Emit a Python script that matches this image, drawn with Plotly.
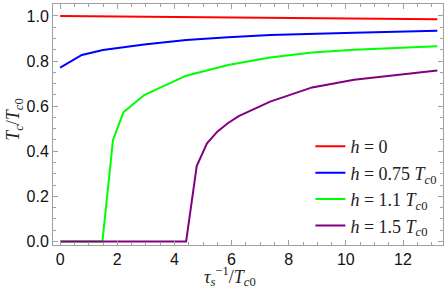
import plotly.graph_objects as go

x_red = [0, 0.735, 1.47, 2.2, 2.94, 4.41, 5.88, 7.35, 8.82, 10.29, 13.2]
y_red = [1.0, 0.999, 0.998, 0.997, 0.996, 0.995, 0.993, 0.991, 0.989, 0.988, 0.985]

x_blue = [0, 0.76, 1.5, 2.2, 2.94, 4.41, 5.88, 7.35, 8.82, 10.29, 13.2]
y_blue = [0.771, 0.827, 0.849, 0.862, 0.873, 0.893, 0.906, 0.915, 0.921, 0.926, 0.934]

x_green = [0, 1.48, 1.85, 2.22, 2.94, 4.41, 5.88, 7.35, 8.82, 10.29, 13.2]
y_green = [0, 0, 0.45, 0.573, 0.649, 0.735, 0.782, 0.816, 0.838, 0.85, 0.866]

x_purple = [0, 4.41, 4.78, 5.14, 5.51, 5.88, 6.25, 7.35, 8.82, 10.29, 13.2]
y_purple = [0, 0, 0.334, 0.435, 0.488, 0.525, 0.556, 0.62, 0.683, 0.717, 0.758]

x_ticks = [0, 2, 4, 6, 8, 10, 12]
y_ticks = [0.0, 0.2, 0.4, 0.6, 0.8, 1.0]

names = ["<i>h</i> = 0",
         "<i>h</i> = 0.75 <i>T</i><sub><i>c</i>0</sub>",
         "<i>h</i> = 1.1 <i>T</i><sub><i>c</i>0</sub>",
         "<i>h</i> = 1.5 <i>T</i><sub><i>c</i>0</sub>"]
colors = ["#ff0000", "#0000ff", "#00ff00", "#800080"]
xs = [x_red, x_blue, x_green, x_purple]
ys = [y_red, y_blue, y_green, y_purple]

fig = go.Figure()
for x, y, n, c in zip(xs, ys, names, colors):
    fig.add_trace(go.Scatter(x=x, y=y, mode="lines", name=n,
                             line=dict(color=c, width=2)))

axis_common = dict(
    showline=True, linecolor="#a0a0a0", linewidth=1, mirror="ticks",
    ticks="inside", ticklen=5, tickcolor="#a0a0a0", tickwidth=1,
    showgrid=False, zeroline=False,
    tickfont=dict(family="Liberation Sans", size=16, color="#111"),
)

fig.update_layout(
    width=446, height=292,
    margin=dict(l=53, r=3, t=4, b=47),
    paper_bgcolor="white", plot_bgcolor="white",
    xaxis=dict(range=[-0.25, 13.4], tickvals=x_ticks,
               minor=dict(ticks="inside", ticklen=3, tickcolor="#a0a0a0", dtick=0.5),
               **axis_common),
    yaxis=dict(range=[-0.016, 1.053], tickvals=y_ticks, tickformat=".1f",
               minor=dict(ticks="inside", ticklen=3, tickcolor="#a0a0a0", dtick=0.05),
               **axis_common),
    legend=dict(x=0.66, y=0.485, xanchor="left", yanchor="top",
                bgcolor="rgba(0,0,0,0)", tracegroupgap=0,
                font=dict(family="Liberation Serif", size=18, color="#222"),
                itemwidth=30),
    showlegend=True,
    annotations=[
        dict(text="<i>τ</i><sub><i>s</i></sub><sup>−1</sup>/<i>T</i><sub><i>c</i>0</sub>",
             xref="paper", yref="paper", x=0.454, y=-0.13,
             xanchor="center", yanchor="middle", showarrow=False,
             font=dict(family="Liberation Serif", size=18, color="#222")),
        dict(text="<i>T</i><sub><i>c</i></sub>/<i>T</i><sub><i>c</i>0</sub>",
             xref="paper", yref="paper", x=-0.097, y=0.52,
             xanchor="center", yanchor="middle", showarrow=False, textangle=-90,
             font=dict(family="Liberation Serif", size=18, color="#222")),
    ],
)

fig.write_html("out.html", config={"displayModeBar": False},
               post_script="document.body.style.margin='0';")
